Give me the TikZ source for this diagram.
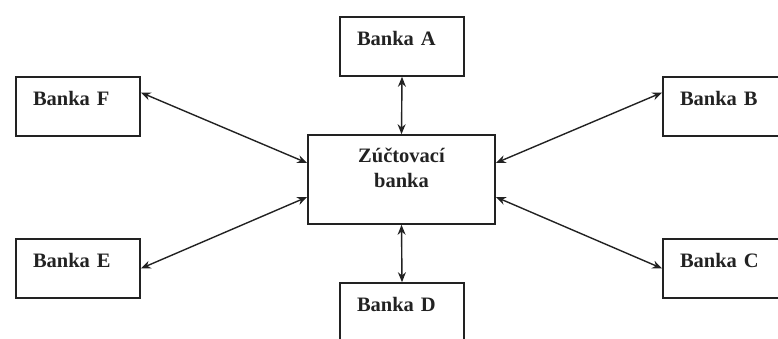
\documentclass[tikz,border=0pt]{standalone}
\usepackage{fontspec}
\setmainfont{Liberation Serif}
\usetikzlibrary{arrows.meta}
\definecolor{ink}{HTML}{222222}
\tikzset{
  bankbox/.style={draw=ink, line width=1.6pt, text=ink, text width=90pt, inner xsep=17pt, inner ysep=0pt,
    text height=28pt, text depth=31pt, align=left, font=\fontsize{20.5}{25}\selectfont\bfseries},
  hubbox/.style={draw=ink, line width=1.6pt, minimum width=187pt, minimum height=89pt, inner sep=0pt},
  hubtext/.style={text=ink, inner sep=0pt, align=center, font=\fontsize{20.5}{25}\selectfont\bfseries},
  link/.style={draw=ink, line width=1.4pt, {Stealth[length=10pt,width=8pt]}-{Stealth[length=10pt,width=8pt]}}
}

\begin{document}
\begin{tikzpicture}[x=1pt,y=-1pt]
  \useasboundingbox (0,0) rectangle (778,338);
  \clip (0,0) rectangle (778,338);
  % clearing bank in the middle
  \node[hubbox] (zb) at (401.5,179.5) {};
  \node[hubtext,anchor=north] (zbtext) at ([yshift=-14pt]zb.north) {Zúčtovací\\banka};
  % member banks
  \node[bankbox] (ba) at (402,46.5) {Banka A};
  \node[bankbox] (bb) at (725,106.5) {Banka B};
  \node[bankbox] (bc) at (725,268.5) {Banka C};
  \node[bankbox] (bd) at (402,312.5) {Banka D};
  \node[bankbox] (be) at (78,268.5) {Banka E};
  \node[bankbox] (bf) at (78,106.5) {Banka F};
  % links
  \draw[link] (ba.south) -- (zb.north);
  \draw[link] (zb.south) -- (bd.north);
  \draw[link] ([yshift=14pt]bf.east) -- ([yshift=16.5pt]zb.west);
  \draw[link] (be.east) -- ([yshift=-17.5pt]zb.west);
  \draw[link] ([yshift=14pt]bb.west) -- ([yshift=16.5pt]zb.east);
  \draw[link] (bc.west) -- ([yshift=-17.5pt]zb.east);
\end{tikzpicture}
\end{document}
